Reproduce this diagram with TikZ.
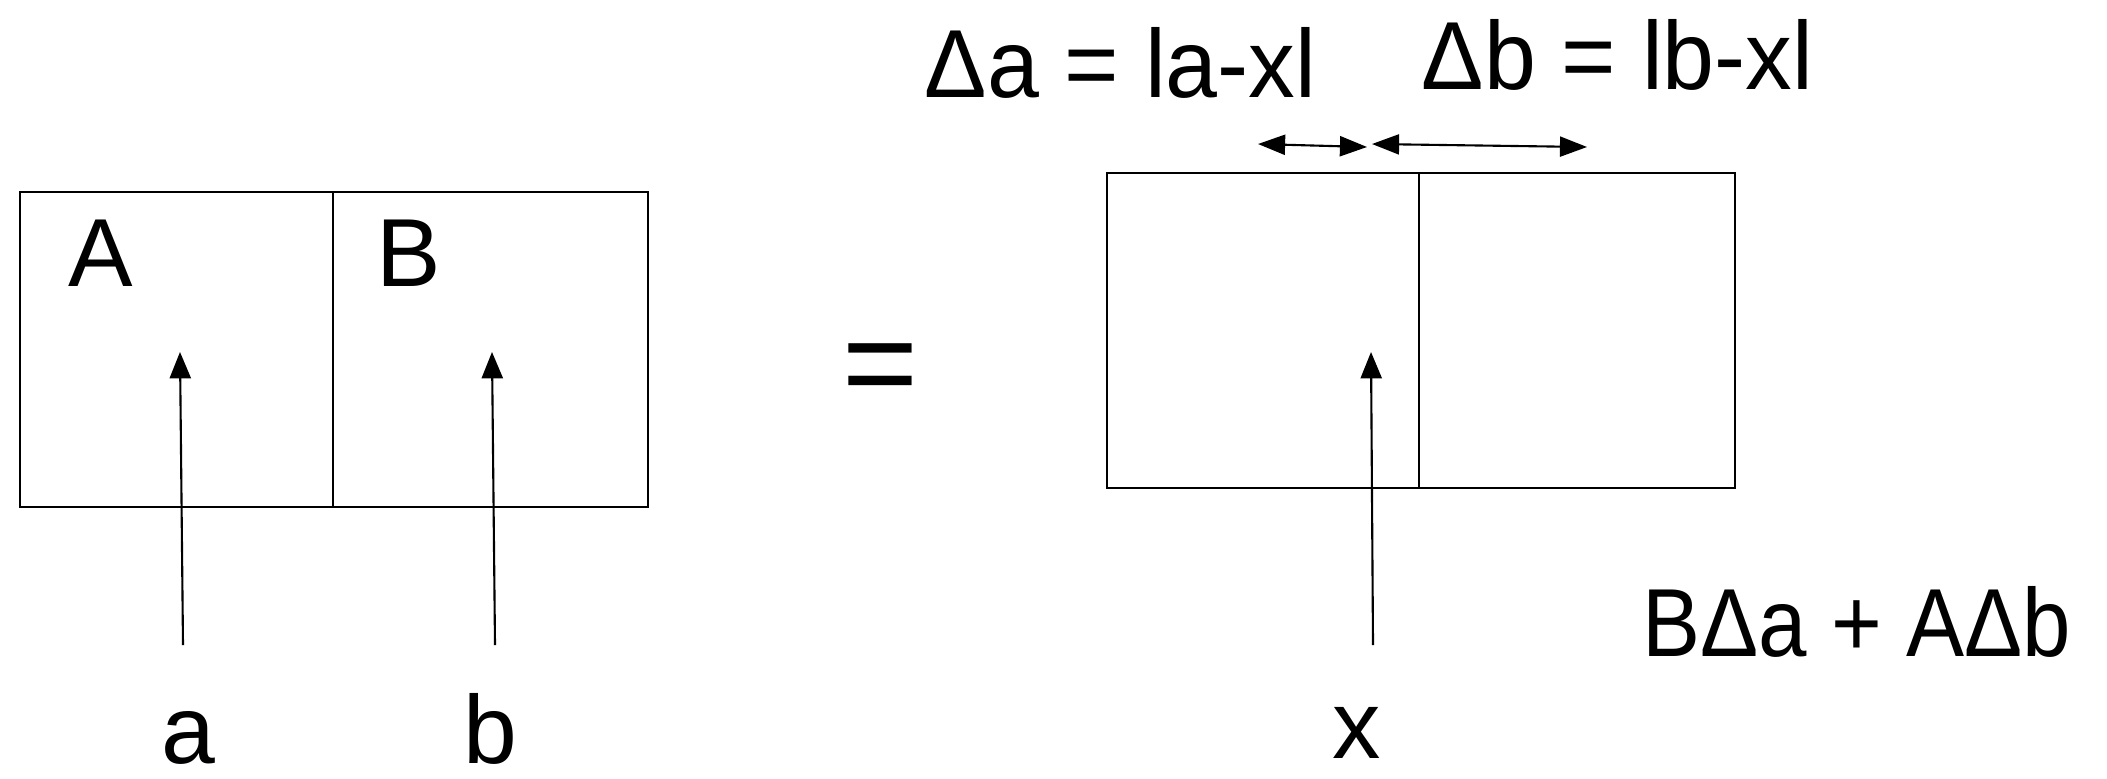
\documentclass[tikz,border=0pt]{standalone}
\usepackage{fontspec}
\setmainfont{Liberation Sans}
\newfontfamily\tightfont[FakeStretch=0.965]{Liberation Sans}
\newfontfamily\narrowfont[FakeStretch=0.9]{Liberation Sans}
\usetikzlibrary{arrows.meta}

\tikzset{
  cell/.style={draw,line width=0.6pt,inner sep=0pt,anchor=north west,minimum height=3.145cm},
  lbl/.style={inner sep=0pt,font=\fontsize{27.5}{33}\selectfont},
  up/.style={-{Triangle[length=7.5pt,width=6pt]},line width=0.6pt},
  span/.style={{Triangle[length=7.7pt,width=5.7pt]}-{Triangle[length=7.7pt,width=5.7pt]},line width=0.6pt}
}

\begin{document}
\begin{tikzpicture}[x=0.01cm,y=-0.01cm]
  \useasboundingbox (0,0) rectangle (2107,778);

  % left split box
  \node[cell,minimum width=3.131cm] (cellA) at (19,191) {};
  \node[cell,minimum width=3.145cm] (cellB) at (332,191) {};
  \node[lbl,anchor=base west] (labA) at (68,286) {A};
  \node[lbl,anchor=base west] (labB) at (376,286) {B};

  % equals
  \node[inner sep=0pt,font=\fontsize{37}{44}\selectfont] (eq) at (880,376) {=};

  % right split box
  \node[cell,minimum width=3.118cm,minimum height=3.144cm] (cellL) at (1106,172) {};
  \node[cell,minimum width=3.158cm,minimum height=3.144cm] (cellR) at (1418,172) {};

  % positions
  \node[lbl,anchor=base] (pa) at (188,763) {a};
  \node[lbl,anchor=base] (pb) at (490,763) {b};
  \node[lbl,anchor=base] (px) at (1357,758) {x};
  \coordinate (ta) at (183,645);
  \coordinate (ha) at (180,352);
  \coordinate (tb) at (495,645);
  \coordinate (hb) at (492,352);
  \coordinate (tx) at (1373,645);
  \coordinate (hx) at (1371,352);
  \draw[up] (ta) -- (ha);
  \draw[up] (tb) -- (hb);
  \draw[up] (tx) -- (hx);

  % distances
  \node[lbl,anchor=base west] (da) at (924,97) {\tightfont Δa = la-xl};
  \node[lbl,anchor=base west] (db) at (1421,89) {\tightfont Δb = lb-xl};
  \coordinate (da1) at (1258,144);
  \coordinate (da2) at (1367,147);
  \coordinate (db1) at (1372,144);
  \coordinate (db2) at (1587,147);
  \draw[span] (da1) -- (da2);
  \draw[span] (db1) -- (db2);

  \node[lbl,anchor=base west] (sum) at (1642,656) {\narrowfont BΔa + AΔb};
\end{tikzpicture}
\end{document}
